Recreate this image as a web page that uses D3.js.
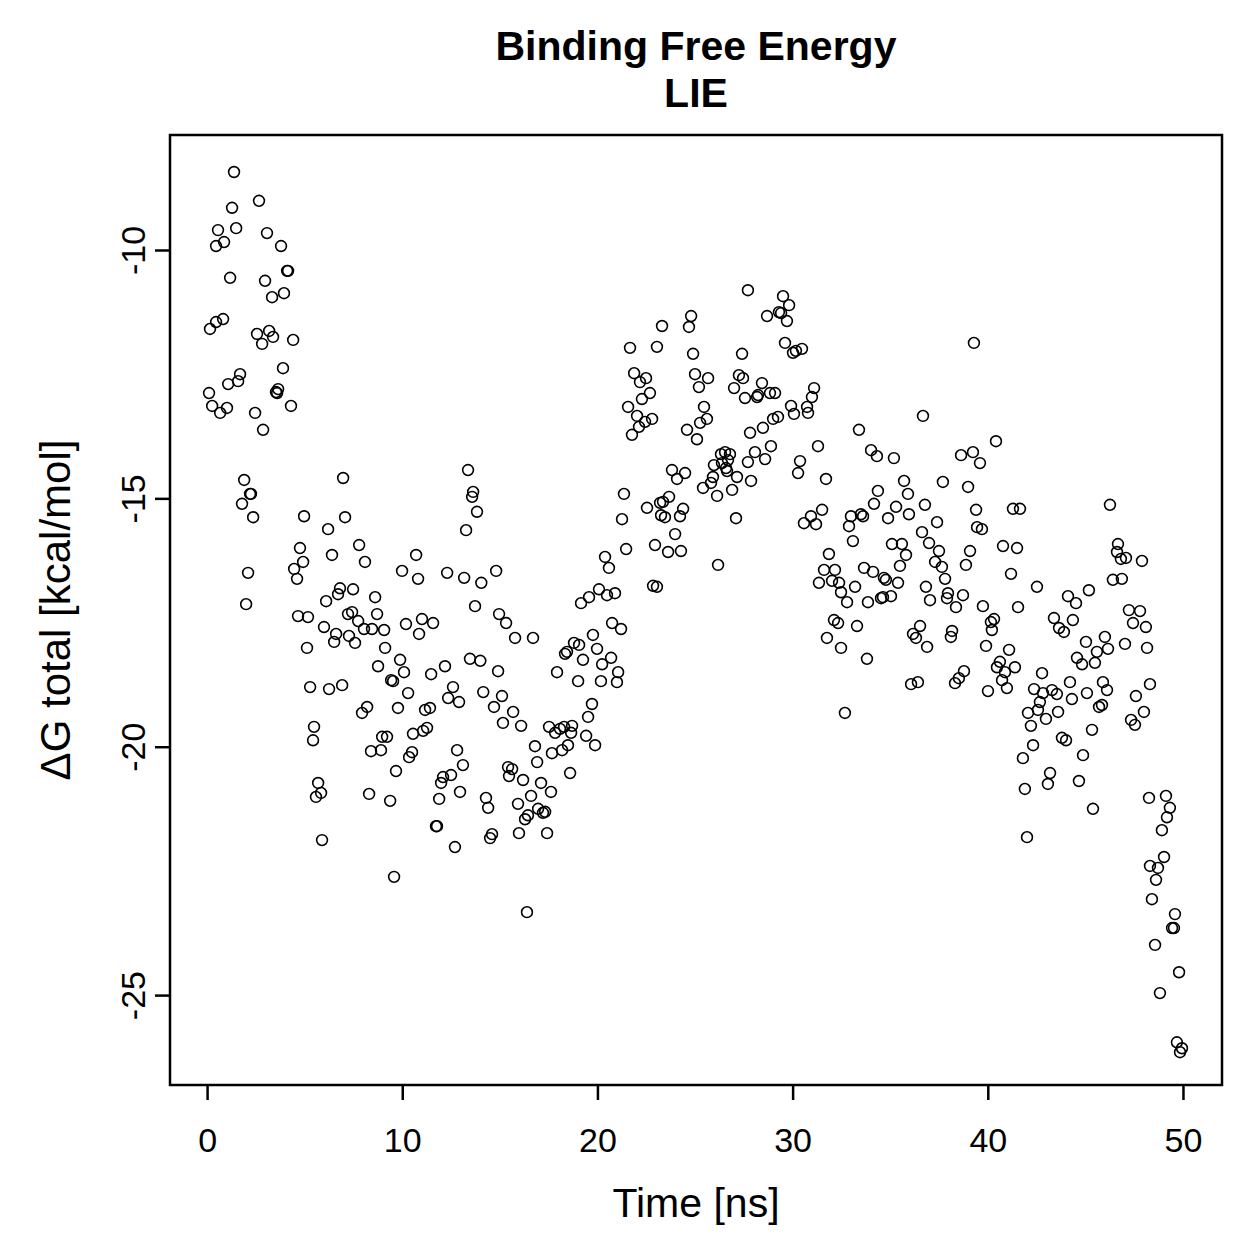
<!DOCTYPE html>
<html>
<head>
<meta charset="utf-8">
<script src="https://cdn.jsdelivr.net/npm/d3@7"></script>
<style>
body { margin: 0; background: #fff; }
svg { font-family: "Liberation Sans", Arial, Helvetica, sans-serif; }
</style>
</head>
<body>
<svg id="canvas" width="1259" height="1259"></svg>
<script>
// values
let time = [
0.10,0.15,0.26,0.46,0.46,0.56,0.67,0.82,0.87,1.02,1.08,1.18,1.28,1.38,1.49,1.59,1.69,1.79,1.90,2.00,
2.10,2.20,2.25,2.36,2.46,2.56,2.66,2.82,2.87,2.97,3.07,3.18,3.33,3.38,3.53,3.59,3.64,3.79,3.89,3.94,
4.10,4.15,4.30,4.41,4.46,4.61,4.66,4.76,4.92,4.97,5.12,5.17,5.28,5.43,5.48,5.58,5.69,5.84,5.89,5.99,
6.10,6.20,6.25,6.40,6.51,6.61,6.71,6.81,6.92,6.97,7.07,7.22,7.27,7.43,7.48,7.58,7.74,7.79,7.94,8.04,
8.09,8.20,8.30,8.40,8.45,8.61,8.71,8.76,8.91,8.97,9.07,9.12,9.22,9.38,9.43,9.53,9.58,9.68,9.78,9.89,
9.99,10.09,10.19,10.30,10.35,10.50,10.55,10.71,10.81,10.86,11.01,11.07,11.17,11.27,11.42,11.48,11.58,11.73,11.78,11.89,
11.99,12.09,12.19,12.30,12.35,12.50,12.60,12.70,12.81,12.91,12.96,13.11,13.17,13.27,13.37,13.47,13.58,13.63,13.73,13.83,
14.00,14.05,14.15,14.29,14.40,14.50,14.60,14.70,14.81,14.91,14.96,15.11,15.16,15.32,15.42,15.47,15.63,15.68,15.78,15.93,
15.98,16.09,16.19,16.29,16.39,16.44,16.60,16.70,16.80,16.91,16.96,17.11,17.21,17.32,17.42,17.52,17.62,17.67,17.83,17.93,
18.08,18.19,18.29,18.34,18.44,18.49,18.60,18.65,18.70,18.80,19.01,19.06,19.16,19.26,19.42,19.52,19.57,19.72,19.77,19.88,
19.98,20.08,20.18,20.24,20.39,20.49,20.59,20.70,20.75,20.90,21.00,21.06,21.21,21.26,21.36,21.47,21.57,21.67,21.77,21.88,
22.03,22.13,22.18,22.28,22.44,22.49,22.54,22.69,22.80,22.85,22.95,23.05,23.05,23.21,23.26,23.31,23.36,23.46,23.62,23.67,
23.82,23.98,24.08,24.23,24.28,24.39,24.49,24.59,24.69,24.80,24.90,25.00,25.10,25.20,25.26,25.41,25.46,25.61,25.67,25.82,
25.92,25.97,26.13,26.18,26.33,26.38,26.54,26.59,26.64,26.69,26.79,26.90,27.00,27.10,27.15,27.25,27.41,27.46,27.56,27.71,
27.71,27.82,27.87,28.07,28.18,28.23,28.43,28.48,28.59,28.69,28.84,28.89,29.00,29.10,29.25,29.30,29.41,29.51,29.61,29.71,
29.82,29.92,30.02,30.07,30.17,30.28,30.38,30.48,30.58,30.74,30.79,30.94,30.99,31.10,31.20,31.30,31.35,31.51,31.61,31.71,
31.76,31.86,32.02,32.17,32.38,32.48,32.79,33.20,32.12,32.33,32.48,32.68,32.89,32.99,33.09,33.30,33.40,33.50,33.61,33.66,
33.81,33.86,34.02,34.12,34.17,34.32,34.37,34.53,34.63,34.68,34.78,34.89,35.04,35.09,35.19,35.30,35.40,35.50,35.60,35.71,
35.81,35.91,35.96,36.07,36.17,36.32,36.42,36.53,36.63,36.68,36.78,36.83,36.89,36.99,37.04,37.30,37.40,37.50,37.65,37.70,
37.81,37.91,37.96,38.11,38.17,38.32,38.37,38.52,38.63,38.73,38.78,38.88,38.99,39.09,39.24,39.29,39.40,39.45,39.60,39.70,
39.75,39.91,40.01,40.16,40.21,40.32,40.42,40.47,40.62,40.73,40.78,40.88,40.98,41.09,41.19,41.29,41.39,41.50,41.55,41.65,
41.80,41.90,42.01,42.06,42.21,42.32,42.37,42.52,42.57,42.67,42.78,42.83,42.98,43.08,43.19,43.29,43.39,43.54,43.60,43.65,
43.80,43.90,44.01,44.11,44.21,44.31,44.36,44.52,44.57,44.67,44.83,44.88,45.03,45.08,45.18,45.34,45.39,45.49,45.59,45.70,
45.85,45.90,46.00,46.11,46.16,46.26,46.41,46.62,46.67,46.82,46.87,47.03,47.08,47.23,47.34,47.44,47.54,47.59,47.80,47.90,
48.00,48.10,48.16,48.26,48.31,48.31,48.41,48.57,48.62,48.72,48.82,48.92,49.03,49.13,49.18,49.33,49.44,49.54,49.59,49.69,
49.80,49.85,49.95
]

let dG = [
-12.88,-11.59,-13.14,-11.45,-9.92,-9.60,-13.28,-11.39,-9.84,-13.18,-12.70,-10.56,-9.15,-8.43,-9.56,-12.64,-12.50,-15.11,-14.63,-17.13,
-16.50,-14.91,-14.91,-15.38,-13.28,-11.69,-9.01,-11.89,-13.62,-10.62,-9.66,-11.63,-10.95,-11.75,-12.86,-12.88,-12.80,-9.92,-12.38,-10.87,
-10.42,-10.42,-13.14,-11.81,-16.42,-16.62,-17.37,-16.00,-16.28,-15.36,-18.01,-17.39,-18.80,-19.87,-19.60,-21.01,-20.73,-20.93,-21.88,-17.59,
-17.07,-15.62,-18.84,-16.14,-17.89,-17.73,-16.93,-16.81,-18.76,-14.59,-15.38,-17.33,-17.77,-17.29,-16.83,-17.91,-17.47,-15.94,-19.32,-17.63,
-16.28,-19.20,-20.95,-20.09,-17.63,-16.99,-17.33,-18.38,-20.07,-19.80,-17.65,-18.01,-19.80,-21.09,-18.66,-18.68,-22.62,-20.49,-19.22,-18.25,
-16.46,-18.50,-17.53,-18.92,-20.21,-20.11,-19.74,-16.14,-16.62,-17.73,-17.43,-19.68,-19.26,-19.62,-19.22,-18.54,-17.51,-21.60,-21.60,-21.05,
-20.73,-20.61,-18.38,-16.50,-19.02,-20.57,-18.80,-22.02,-20.07,-19.10,-20.91,-20.37,-16.60,-15.64,-14.43,-18.23,-14.97,-14.87,-17.17,-15.27,
-18.27,-16.70,-18.90,-21.03,-21.23,-21.84,-21.76,-19.20,-16.46,-18.48,-17.33,-18.98,-19.52,-17.51,-20.41,-20.59,-20.45,-19.30,-17.81,-21.15,
-21.74,-19.58,-20.67,-21.46,-23.33,-21.38,-20.99,-17.81,-19.99,-20.31,-21.25,-20.73,-21.33,-21.31,-21.74,-19.60,-20.91,-20.13,-19.72,-18.50,
-19.64,-20.07,-19.60,-18.13,-18.09,-19.97,-20.53,-19.72,-19.58,-17.91,-18.68,-17.95,-17.11,-18.25,-19.78,-19.40,-16.99,-19.14,-17.75,-19.97,
-18.03,-16.83,-18.68,-18.34,-16.18,-16.95,-16.40,-18.21,-17.51,-16.91,-18.70,-18.50,-17.63,-15.42,-14.91,-16.02,-13.16,-11.97,-13.72,-12.48,
-13.34,-13.56,-12.66,-13.00,-13.46,-12.58,-15.19,-12.88,-13.40,-16.76,-15.94,-16.78,-11.95,-15.09,-15.34,-11.53,-15.07,-15.38,-16.08,-14.97,
-14.43,-15.72,-14.61,-15.36,-16.06,-15.21,-14.49,-13.62,-11.55,-11.33,-12.09,-12.50,-13.81,-12.76,-13.48,-14.79,-13.16,-13.40,-12.58,-14.69,
-14.57,-14.33,-14.95,-16.34,-14.11,-14.29,-14.07,-14.39,-14.45,-14.23,-14.11,-14.83,-12.78,-15.40,-14.57,-12.52,-12.09,-12.58,-12.98,-14.27,
-10.81,-13.68,-14.65,-14.07,-12.96,-12.92,-12.68,-13.58,-14.21,-11.33,-12.88,-13.95,-13.40,-12.88,-13.36,-11.25,-11.27,-10.93,-11.87,-11.43,
-11.11,-13.14,-12.07,-13.30,-12.03,-14.49,-14.25,-11.99,-15.50,-13.16,-13.28,-15.36,-12.96,-12.78,-15.52,-13.95,-16.70,-15.23,-16.44,-14.61,
-17.81,-16.12,-16.66,-16.44,-16.70,-16.89,-17.09,-16.78,-17.45,-17.51,-18.01,-19.32,-15.56,-15.36,-15.86,-17.57,-13.62,-15.32,-15.36,-16.40,
-18.23,-17.09,-14.03,-16.48,-15.11,-14.15,-14.85,-17.01,-16.99,-16.60,-16.64,-15.40,-16.97,-15.92,-14.19,-15.17,-16.70,-16.36,-15.92,-14.65,
-16.14,-14.91,-15.32,-18.74,-17.73,-17.81,-18.70,-17.57,-15.68,-13.34,-15.13,-16.78,-17.99,-15.90,-17.05,-16.28,-15.48,-16.06,-16.38,-14.67,
-16.62,-17.01,-16.91,-17.79,-17.67,-18.72,-17.19,-18.62,-14.13,-16.95,-18.48,-16.34,-14.77,-16.06,-14.07,-11.87,-15.23,-15.58,-14.29,-15.62,
-17.17,-17.97,-18.88,-17.49,-17.65,-17.43,-13.85,-18.40,-18.29,-18.66,-15.96,-18.50,-18.82,-18.05,-16.52,-15.21,-18.40,-16.00,-17.19,-15.21,
-20.23,-20.85,-21.82,-19.32,-19.58,-19.97,-18.84,-16.78,-19.26,-19.10,-18.52,-18.92,-19.44,-20.75,-20.53,-18.86,-17.41,-18.94,-19.30,-17.61,
-19.82,-17.69,-19.87,-16.97,-18.70,-19.04,-17.45,-17.11,-18.21,-20.69,-18.34,-20.17,-17.89,-18.92,-16.85,-19.66,-21.25,-18.31,-18.09,-19.20,
-19.16,-18.70,-17.79,-18.86,-18.03,-15.13,-16.64,-16.08,-15.92,-16.22,-16.62,-17.93,-16.20,-17.25,-19.46,-17.51,-19.56,-18.98,-17.27,-16.26,
-19.30,-17.59,-18.01,-21.03,-18.74,-22.40,-23.07,-23.99,-22.68,-22.44,-24.96,-21.68,-22.22,-20.99,-21.42,-21.23,-23.65,-23.65,-23.37,-25.95,
-24.54,-26.15,-26.07
]

let xTicks = [0, 10, 20, 30, 40, 50]
let yTicks = [-10, -15, -20, -25]
let titleLines = ["Binding Free Energy", "LIE"]
let xLabel = "Time [ns]"
let yLabel = "\u0394G total [kcal/mol]"

let svg = d3.select('#canvas')

let boxLeft = 170, boxRight = 1222, boxTop = 135, boxBottom = 1085

let points = d3.zip(time, dG)

let xScale = d3.scaleLinear()
               .domain([-1.9, 52.0])
               .range([boxLeft, boxRight])

let yScale = d3.scaleLinear()
               .domain([-26.81, -7.685])
               .range([boxBottom, boxTop])

svg.append('rect')
   .attr('width', 1259)
   .attr('height', 1259)
   .attr('fill', '#fff')

// points
svg.append('g')
   .selectAll('circle')
   .data(points)
   .enter()
   .append('circle')
   .attr('cx', (d) => xScale(d[0]))
   .attr('cy', (d) => yScale(d[1]))
   .attr('r', 5.4)
   .attr('fill', 'none')
   .attr('stroke', '#000')
   .attr('stroke-width', 1.6)

// box
svg.append('rect')
   .attr('x', boxLeft)
   .attr('y', boxTop)
   .attr('width', boxRight - boxLeft)
   .attr('height', boxBottom - boxTop)
   .attr('fill', 'none')
   .attr('stroke', '#000')
   .attr('stroke-width', 2.5)

// x axis
let xAxis = d3.axisBottom(xScale)
              .tickValues(xTicks)
              .tickSize(15)
              .tickFormat(d3.format('d'))

let xAxisG = svg.append('g')
                .attr('transform', 'translate(0,' + boxBottom + ')')
                .call(xAxis)
xAxisG.select('.domain').remove()
xAxisG.selectAll('line').attr('stroke-width', 2.5)
xAxisG.selectAll('text')
      .attr('y', 67)
      .attr('dy', null)
      .attr('font-size', 34)
      .attr('font-family', '"Liberation Sans", Arial, sans-serif')
      .attr('fill', '#000')

// y axis, labels parallel to the axis like R does
let yAxis = d3.axisLeft(yScale)
              .tickValues(yTicks)
              .tickSize(15)
              .tickFormat((d) => String(d))

let yAxisG = svg.append('g')
                .attr('transform', 'translate(' + boxLeft + ',0)')
                .call(yAxis)
yAxisG.select('.domain').remove()
yAxisG.selectAll('line').attr('stroke-width', 2.5)
yAxisG.selectAll('text')
      .attr('x', null)
      .attr('dy', null)
      .attr('text-anchor', 'middle')
      .attr('transform', 'translate(-25,0) rotate(-90)')
      .attr('font-size', 34)
      .attr('font-family', '"Liberation Sans", Arial, sans-serif')
      .attr('fill', '#000')

// titles
svg.append('g')
   .selectAll('text')
   .data(titleLines)
   .enter()
   .append('text')
   .text((d) => d)
   .attr('x', (boxLeft + boxRight) / 2)
   .attr('y', (d, i) => 60 + i * 47)
   .attr('text-anchor', 'middle')
   .attr('font-weight', 'bold')
   .attr('font-size', 41)

svg.append('text')
   .text(xLabel)
   .attr('x', (boxLeft + boxRight) / 2)
   .attr('y', 1217)
   .attr('text-anchor', 'middle')
   .attr('font-size', 41)

svg.append('text')
   .text(yLabel)
   .attr('transform', 'translate(70,' + (boxTop + boxBottom) / 2 + ') rotate(-90)')
   .attr('text-anchor', 'middle')
   .attr('font-size', 42)
</script>
</body>
</html>
